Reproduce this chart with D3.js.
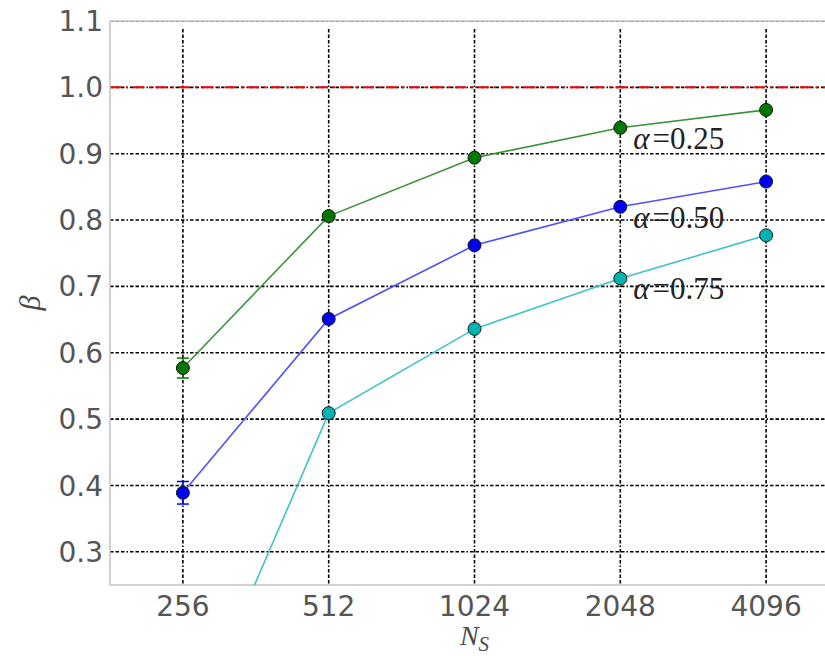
<!DOCTYPE html>
<html>
<head>
<meta charset="utf-8">
<script src="https://cdn.jsdelivr.net/npm/d3@7"></script>
<style>
  body { margin: 0; background: #fff; }
  svg { display: block; }
</style>
</head>
<body>
<svg id="chart"></svg>
<script>
// data
const sizes = [256, 512, 1024, 2048, 4096];
const beta25 = [0.577, 0.806, 0.894, 0.939, 0.966];
const beta50 = [0.389, 0.651, 0.762, 0.820, 0.858];
const beta75 = [0.0, 0.509, 0.636, 0.712, 0.777];
const err25 = [0.015, 0.004, 0.003, 0.002, 0.002];
const err50 = [0.017, 0.004, 0.003, 0.002, 0.002];
const err75 = [0.02, 0.004, 0.003, 0.002, 0.002];
const yTicks = [0.3, 0.4, 0.5, 0.6, 0.7, 0.8, 0.9, 1.0, 1.1];
const alphaLabels = ['0.25', '0.50', '0.75'];

const width = 825, height = 656;
const margin = { top: 21, left: 110 };
const plotW = 729, plotH = 564;

const svg = d3.select('#chart').attr('width', width).attr('height', height);

const x = d3.scaleLog().base(2).domain([Math.pow(2, 7.5), Math.pow(2, 12.5)])
  .range([margin.left, margin.left + plotW]);
const y = d3.scaleLinear().domain([0.25, 1.1]).range([margin.top + plotH, margin.top]);

const series = [
  { vals: beta25, err: err25, line: '#3c923c', fill: '#007800', label: alphaLabels[0] },
  { vals: beta50, err: err50, line: '#4f4fff', fill: '#0000f0', label: alphaLabels[1] },
  { vals: beta75, err: err75, line: '#3fc4c4', fill: '#00b4b4', label: alphaLabels[2] }
];

svg.append('clipPath').attr('id', 'plot')
  .append('rect')
  .attr('x', margin.left).attr('y', margin.top)
  .attr('width', plotW).attr('height', plotH);

// grid
const grid = svg.append('g').attr('clip-path', 'url(#plot)');
const dash = '3.5,2,3.5,2,3.5,2,1.5,2';
grid.selectAll('.gy').data(yTicks).join('line')
  .attr('x1', margin.left).attr('x2', margin.left + plotW)
  .attr('y1', d => y(d)).attr('y2', d => y(d))
  .attr('stroke', '#000').attr('stroke-width', 1.6)
  .attr('stroke-dasharray', dash);
grid.selectAll('.gx').data(sizes).join('line')
  .attr('x1', d => x(d)).attr('x2', d => x(d))
  .attr('y1', margin.top + 8).attr('y2', margin.top + plotH)
  .attr('stroke', '#000').attr('stroke-width', 1.6)
  .attr('stroke-dasharray', dash);

// reference line at beta = 1
grid.append('line')
  .attr('x1', margin.left).attr('x2', margin.left + plotW)
  .attr('y1', y(1)).attr('y2', y(1))
  .attr('stroke', '#ff0000').attr('stroke-width', 2)
  .attr('stroke-dasharray', '11,5,2,5');

// frame
svg.append('rect')
  .attr('x', margin.left).attr('y', margin.top)
  .attr('width', plotW).attr('height', plotH)
  .attr('fill', 'none').attr('stroke', '#c4c4c4').attr('stroke-width', 1.5);

// series
const line = d3.line().x((d, i) => x(sizes[i])).y(d => y(d));
const data = svg.append('g').attr('clip-path', 'url(#plot)');
series.forEach(s => {
  data.append('path').datum(s.vals)
    .attr('d', line)
    .attr('fill', 'none').attr('stroke', s.line).attr('stroke-width', 1.6);
  const eb = data.append('g');
  s.vals.forEach((v, i) => {
    const cx = x(sizes[i]);
    eb.append('line').attr('x1', cx).attr('x2', cx)
      .attr('y1', y(v - s.err[i])).attr('y2', y(v + s.err[i]))
      .attr('stroke', s.fill).attr('stroke-width', 1.5);
    [v - s.err[i], v + s.err[i]].forEach(e => {
      eb.append('line').attr('x1', cx - 6).attr('x2', cx + 6)
        .attr('y1', y(e)).attr('y2', y(e))
        .attr('stroke', s.fill).attr('stroke-width', 1.5);
    });
  });
  data.selectAll(null).data(s.vals).join('circle')
    .attr('cx', (d, i) => x(sizes[i])).attr('cy', d => y(d))
    .attr('r', 6.5)
    .attr('fill', s.fill).attr('stroke', '#1a1a1a').attr('stroke-width', 1);
});

// curve labels
const lab = svg.append('g')
  .attr('font-family', '"Liberation Serif", serif').attr('font-size', 31).attr('fill', '#222');
series.forEach(s => {
  const t = lab.append('text')
    .attr('x', x(sizes[3]) + 13)
    .attr('y', y(s.vals[3]) + 21);
  t.append('tspan').attr('font-style', 'italic').text('α');
  t.append('tspan').attr('dx', 3).text('=');
  t.append('tspan').text(s.label);
});

// tick labels
const tickFont = '"DejaVu Sans", sans-serif';
svg.append('g').selectAll('text').data(yTicks).join('text')
  .attr('x', margin.left - 7).attr('y', d => y(d))
  .attr('dy', '0.36em').attr('text-anchor', 'end')
  .attr('font-family', tickFont).attr('font-size', 28).attr('fill', '#555')
  .text(d3.format('.1f'));
svg.append('g').selectAll('text').data(sizes).join('text')
  .attr('x', d => x(d)).attr('y', margin.top + plotH + 21)
  .attr('dy', '0.36em').attr('text-anchor', 'middle')
  .attr('font-family', tickFont).attr('font-size', 28).attr('fill', '#555')
  .text(d => d);

// axis titles
const xt = svg.append('text')
  .attr('x', x(1024)).attr('y', 645)
  .attr('text-anchor', 'middle')
  .attr('font-family', '"Liberation Serif", serif').attr('font-size', 28)
  .attr('font-style', 'italic').attr('fill', '#4a4a4a');
xt.append('tspan').text('N');
xt.append('tspan').attr('font-size', 21).attr('dy', 6).text('S');

svg.append('text')
  .attr('transform', 'translate(40,303) rotate(-90)')
  .attr('text-anchor', 'middle')
  .attr('font-family', '"Liberation Serif", serif').attr('font-size', 30)
  .attr('font-style', 'italic').attr('fill', '#4a4a4a')
  .text('β');
</script>
</body>
</html>
